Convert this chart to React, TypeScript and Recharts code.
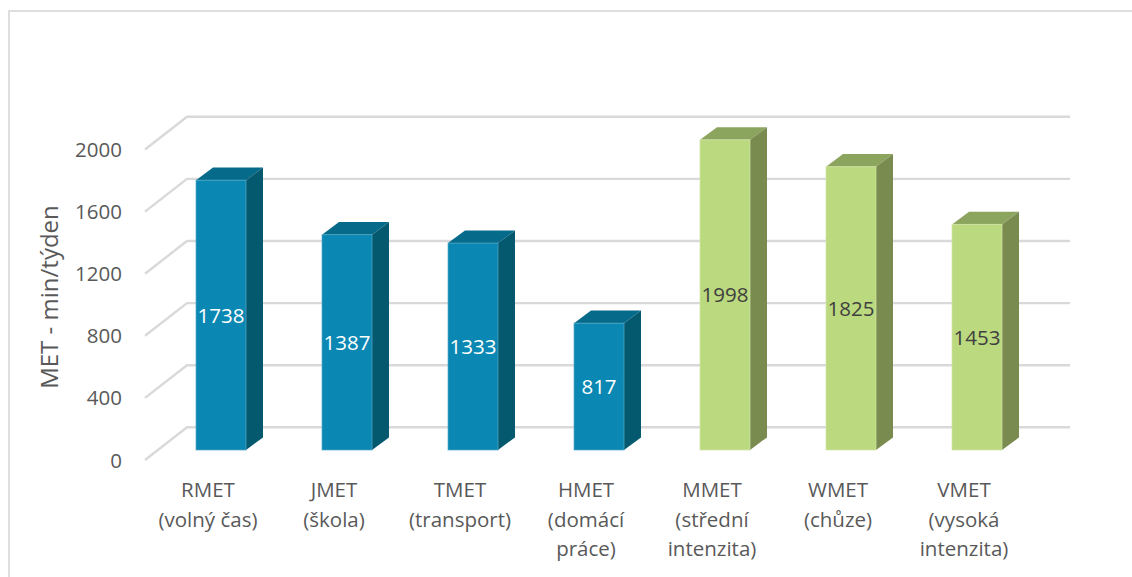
import { BarChart, Bar, XAxis, YAxis, CartesianGrid, LabelList, Label } from "recharts";

const categories = [
  "RMET\n(volný čas)",
  "JMET\n(škola)",
  "TMET\n(transport)",
  "HMET\n(domácí\npráce)",
  "MMET\n(střední\nintenzita)",
  "WMET\n(chůze)",
  "VMET\n(vysoká\nintenzita)",
];
const values = [1738, 1387, 1333, 817, 1998, 1825, 1453];
const groups = ["blue", "blue", "blue", "blue", "green", "green", "green"];
const yTicks = [0, 400, 800, 1200, 1600, 2000];

const palette: Record<string, any> = {
  blue: { front: "#0a87b2", top: "#066a8b", side: "#05596f", edge: "#5aa9c6", text: "#ffffff" },
  green: { front: "#bbd97e", top: "#8ca55e", side: "#7a8b4f", edge: "#d3e6a8", text: "#404040" },
};

const data = categories.map((name, i) => ({ name, value: values[i], group: groups[i] }));

const FONT = "'Open Sans', sans-serif";
const DEPTH_X = 17;
const DEPTH_Y = 12.6;

function Bar3D(props: any) {
  const { x, y, width, height, payload } = props;
  const c = palette[payload.group];
  const r = x + width;
  const b = y + height;
  return (
    <g>
      <path
        d={`M${x},${y} L${x + DEPTH_X},${y - DEPTH_Y} L${r + DEPTH_X},${y - DEPTH_Y} L${r},${y} Z`}
        fill={c.top}
      />
      <path
        d={`M${r},${y} L${r + DEPTH_X},${y - DEPTH_Y} L${r + DEPTH_X},${b - DEPTH_Y} L${r},${b} Z`}
        fill={c.side}
      />
      <rect x={x} y={y} width={width} height={height} fill={c.front} stroke={c.edge} strokeWidth={1} strokeOpacity={0.7} />
    </g>
  );
}

// floor diagonal plus the back wall line for each y tick
function GridLine(props: any) {
  const { y1, index } = props;
  return (
    <g key={index} stroke="#d9d9d9" strokeWidth={2.4} fill="none">
      <path d={`M145,${y1 + 10} L187,${y1 - 22.7} L1070,${y1 - 22.7}`} />
    </g>
  );
}

function YTick(props: any) {
  const { y, payload } = props;
  return (
    <text x={122} y={y + 10} dy={7.5} textAnchor="end" fontFamily={FONT} fontSize={20.5} fill="#595959">
      {payload.value}
    </text>
  );
}

function XTick(props: any) {
  const { x, payload } = props;
  const lines = String(payload.value).split("\n");
  return (
    <text textAnchor="middle" fontFamily={FONT} fontSize={20.5} fill="#595959">
      {lines.map((line: string, i: number) => (
        <tspan key={i} x={x - 13} y={497 + i * 29.5}>
          {line}
        </tspan>
      ))}
    </text>
  );
}

function ValueLabel(props: any) {
  const { x, y, width, height, value, index } = props;
  return (
    <text
      x={x + width / 2}
      y={y + height / 2}
      dy={7.5}
      textAnchor="middle"
      fontFamily={FONT}
      fontSize={20.5}
      fill={palette[groups[index]].text}
    >
      {value}
    </text>
  );
}

export default function App() {
  return (
    <div style={{ position: "absolute", left: 0, top: 0, width: 1132, height: 577, overflow: "hidden", background: "#fff" }}>
      <div
        style={{
          position: "absolute",
          left: 8,
          top: 10,
          width: 1124,
          height: 567,
          borderLeft: "2px solid #dedede",
          borderTop: "2px solid #dedede",
        }}
      />
      <BarChart
        width={1132}
        height={577}
        data={data}
        margin={{ top: 139.5, right: 92, bottom: 0, left: 0 }}
        barSize={50}
        style={{ position: "absolute", left: 0, top: 0 }}
      >
        <CartesianGrid vertical={false} horizontal={GridLine as any} />
        <XAxis dataKey="name" height={127} interval={0} axisLine={false} tickLine={false} tick={XTick as any} />
        <YAxis width={158} domain={[0, 2000]} ticks={yTicks} axisLine={false} tickLine={false} tick={YTick as any}>
          <Label
            content={() => (
              <text
                transform="translate(58,297) rotate(-90)"
                textAnchor="middle"
                fontFamily={FONT}
                fontSize={24}
                fill="#595959"
              >
                MET - min/týden
              </text>
            )}
          />
        </YAxis>
        <Bar dataKey="value" shape={Bar3D as any} isAnimationActive={false}>
          <LabelList dataKey="value" content={ValueLabel as any} />
        </Bar>
      </BarChart>
    </div>
  );
}
